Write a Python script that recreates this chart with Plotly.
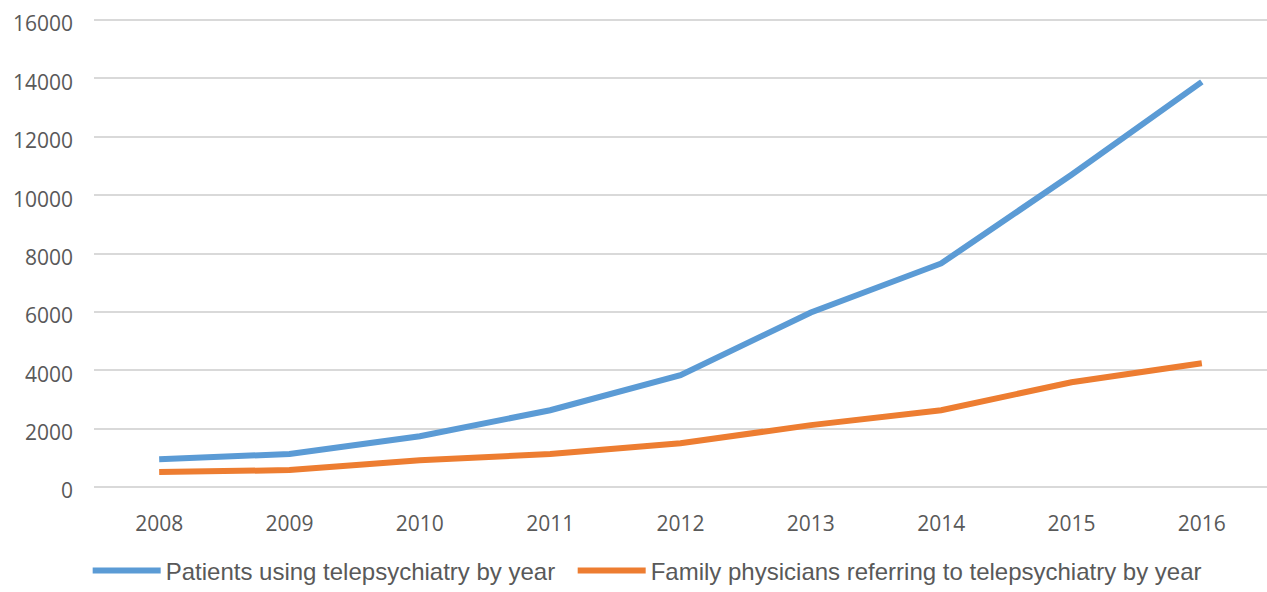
import plotly.graph_objects as go

years = ["2008", "2009", "2010", "2011", "2012", "2013", "2014", "2015", "2016"]
patients = [950, 1130, 1740, 2630, 3830, 5980, 7660, 10700, 13880]
physicians = [510, 580, 920, 1130, 1500, 2120, 2630, 3590, 4240]
series_names = ["Patients using telepsychiatry by year",
                "Family physicians referring to telepsychiatry by year"]
y_ticks = [0, 2000, 4000, 6000, 8000, 10000, 12000, 14000, 16000]

fig = go.Figure()
fig.add_trace(go.Scatter(x=years, y=patients, mode="lines", name=series_names[0],
                         line=dict(color="#5B9BD5", width=6), legend="legend"))
fig.add_trace(go.Scatter(x=years, y=physicians, mode="lines", name=series_names[1],
                         line=dict(color="#ED7D31", width=6), legend="legend2"))

legend_style = dict(orientation="h", xref="container", yref="container",
                    xanchor="left", y=0.0355, yanchor="middle",
                    font=dict(family="Liberation Sans", size=24, color="#595959"),
                    itemwidth=68, bgcolor="rgba(0,0,0,0)")

fig.update_layout(
    width=1267, height=592,
    margin=dict(l=94, r=0, t=18, b=105, autoexpand=False),
    paper_bgcolor="white", plot_bgcolor="white",
    font=dict(family="Open Sans", color="#595959", size=21),
    showlegend=True,
    legend=dict(x=0.0692, **legend_style),
    legend2=dict(x=0.452, **legend_style),
)
fig.update_xaxes(type="category", showgrid=False, showline=False, zeroline=False,
                 ticks="", ticklabelstandoff=22, range=[-0.5, 8.5], automargin=False,
                 ticklabeloverflow="allow")
fig.update_yaxes(range=[0, 16070], tickvals=y_ticks, ticktext=[str(v) for v in y_ticks],
                 showgrid=True, gridcolor="#D9D9D9", gridwidth=1.5,
                 zeroline=True, zerolinecolor="#D9D9D9", zerolinewidth=1.5,
                 showline=False, ticks="", ticklabelstandoff=20, ticklabelshift=4,
                 automargin=False, ticklabeloverflow="allow")

fig.write_html("out.html", config={"displayModeBar": False},
               post_script="document.body.style.margin='0';document.body.style.overflow='hidden';")
